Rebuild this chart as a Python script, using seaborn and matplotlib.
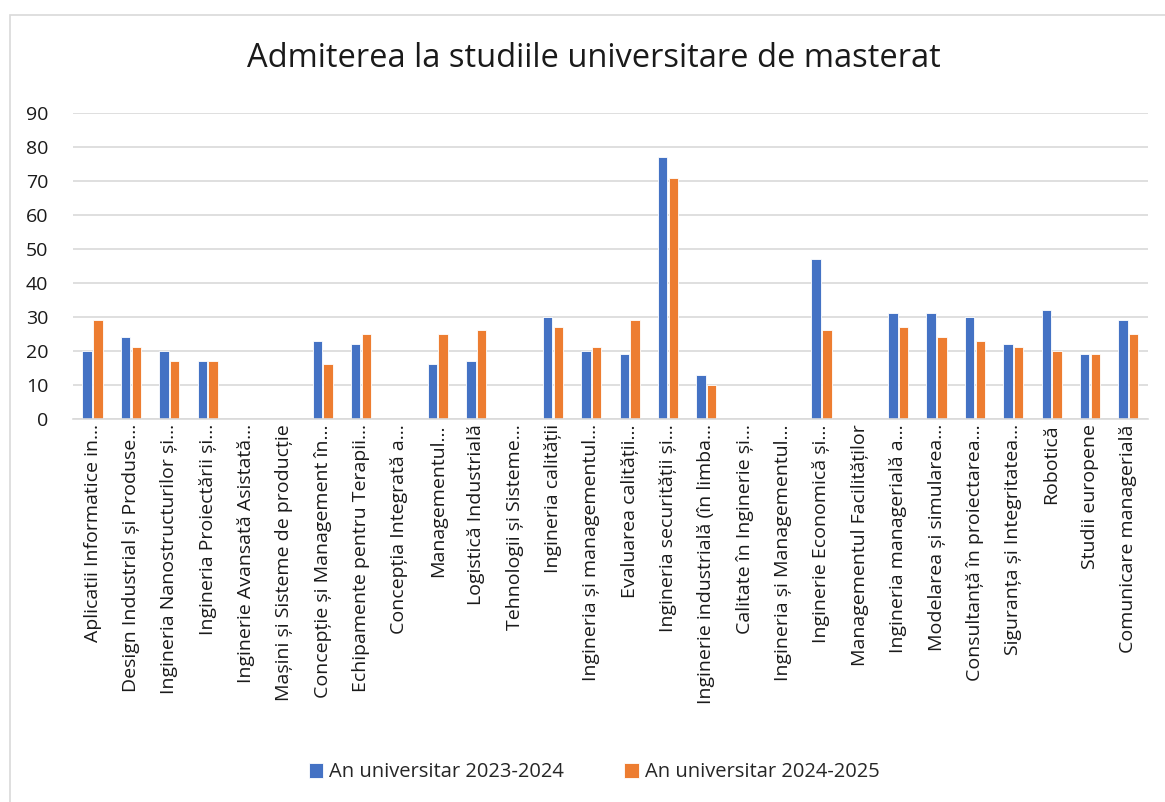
import pandas as pd
import numpy as np
import matplotlib.pyplot as plt
import seaborn as sns
from matplotlib.patches import Rectangle

programe = [
    "Aplicatii Informatice in…",
    "Design Industrial și Produse…",
    "Ingineria Nanostructurilor și…",
    "Ingineria Proiectării și…",
    "Inginerie Avansată Asistată…",
    "Mașini și Sisteme de producție",
    "Concepție și Management în…",
    "Echipamente pentru Terapii…",
    "Concepția Integrată a…",
    "Managementul…",
    "Logistică Industrială",
    "Tehnologii și Sisteme…",
    "Ingineria calității",
    "Ingineria și managementul…",
    "Evaluarea calității…",
    "Ingineria securității și…",
    "Inginerie industrială (în limba…",
    "Calitate în Inginerie și…",
    "Ingineria și Managementul…",
    "Inginerie Economică și…",
    "Managementul Facilităților",
    "Ingineria managerială a…",
    "Modelarea și simularea…",
    "Consultanță în proiectarea…",
    "Siguranța și Integritatea…",
    "Robotică",
    "Studii europene",
    "Comunicare managerială",
]
an_2023_2024 = [20, 24, 20, 17, np.nan, np.nan, 23, 22, np.nan, 16, 17, np.nan, 30, 20,
                19, 77, 13, np.nan, np.nan, 47, np.nan, 31, 31, 30, 22, 32, 19, 29]
an_2024_2025 = [29, 21, 17, 17, np.nan, np.nan, 16, 25, np.nan, 25, 26, np.nan, 27, 21,
                29, 71, 10, np.nan, np.nan, 26, np.nan, 27, 24, 23, 21, 20, 19, 25]
serii = ["An universitar 2023-2024", "An universitar 2024-2025"]

df = pd.DataFrame({"Program": programe, serii[0]: an_2023_2024, serii[1]: an_2024_2025})
long_df = df.melt(id_vars="Program", var_name="An", value_name="Admisi")

sns.set_style("white")
plt.rcParams['font.family'] = ['Open Sans', 'DejaVu Sans']

fig = plt.figure(figsize=(11.65, 8.02), dpi=100)
ax = fig.add_axes([0.063, 0.478, 0.922, 0.381])

sns.barplot(data=long_df, x="Program", y="Admisi", hue="An", order=programe,
            hue_order=serii, palette=["#4472C4", "#ED7D31"], saturation=1,
            width=0.56, gap=0.12, edgecolor="white", linewidth=0.6, ax=ax, legend=True)

ax.set_ylim(0, 90)
ax.set_yticks(range(0, 91, 10))
ax.yaxis.grid(True, color="#d9d9d9", linewidth=1.2)
ax.set_axisbelow(True)
for s in ["top", "right", "left"]:
    ax.spines[s].set_visible(False)
ax.spines["bottom"].set_color("#d9d9d9")
ax.spines["bottom"].set_linewidth(1.2)
ax.tick_params(axis="x", length=0, labelsize=14, colors="#1a1a1a", pad=4)
ax.tick_params(axis="y", length=0, labelsize=14, colors="#1a1a1a", pad=18)
plt.xticks(rotation=90)
ax.set_xlabel("")
ax.set_ylabel("")

fig.suptitle("Admiterea la studiile universitare de masterat", x=0.51, y=0.948,
             fontsize=23.5, color="#1a1a1a")

handles, labels = ax.get_legend_handles_labels()
ax.get_legend().remove()
fig.legend(handles, labels, loc="center", bbox_to_anchor=(0.51, 0.037), ncol=2,
           frameon=False, fontsize=14.5, handlelength=0.7, handleheight=0.8,
           handletextpad=0.3, columnspacing=3.0)

fig.patches.append(Rectangle((10 / 1165, -0.01), 1.0, 1 - 15 / 802 + 0.01,
                             transform=fig.transFigure, fill=False,
                             edgecolor="#d9d9d9", linewidth=1.2))

plt.savefig("out.png", dpi=100)
